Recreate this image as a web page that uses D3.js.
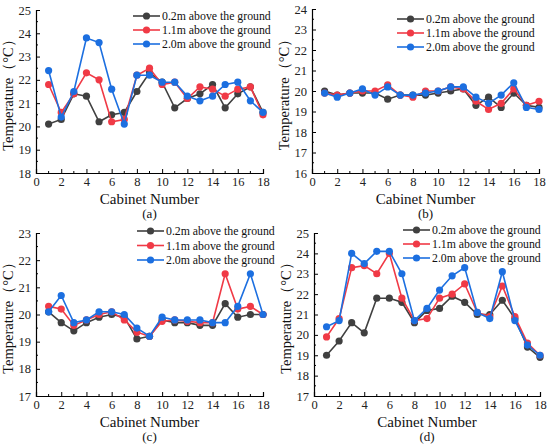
<!DOCTYPE html>
<html>
<head>
<meta charset="utf-8">
<script src="https://cdn.jsdelivr.net/npm/d3@7.9.0/dist/d3.min.js"></script>
<style>
  body { margin: 0; background: #fff; }
  svg, svg text { font-family: "Liberation Serif", "Times New Roman", serif !important; }
</style>
</head>
<body>
<svg id="chart" width="550" height="447"></svg>
<script>
// Cabinet numbers
const cabinets = d3.range(1, 19);
const seriesNames = ['0.2m above the ground', '1.1m above the ground', '2.0m above the ground'];
const seriesColors = ['#404040', '#f03a46', '#1c6fe0'];

// (a)
const aLow = [20.1, 20.3, 21.4, 21.3, 20.2, 20.5, 20.6, 21.5, 22.3, 21.9, 20.8, 21.2, 21.4, 21.8, 20.8, 21.4, 21.7, 20.6];
const aMid = [21.8, 20.6, 21.4, 22.3, 22.0, 20.2, 20.3, 22.2, 22.5, 21.8, 21.9, 21.2, 21.7, 21.6, 21.3, 21.6, 21.7, 20.5];
const aHigh = [22.4, 20.4, 21.5, 23.8, 23.6, 21.6, 20.1, 22.2, 22.2, 21.9, 21.9, 21.3, 21.1, 21.3, 21.8, 21.9, 21.1, 20.6];

// (b)
const bLow = [20.0, 19.8, 19.9, 19.9, 19.9, 19.6, 19.8, 19.8, 19.8, 19.9, 20.0, 20.1, 19.3, 19.7, 19.2, 19.9, 19.3, 19.2];
const bMid = [19.9, 19.8, 19.9, 20.0, 20.0, 20.3, 19.8, 19.7, 20.0, 20.0, 20.2, 20.1, 19.5, 19.1, 19.4, 20.1, 19.3, 19.5];
const bHigh = [19.9, 19.7, 19.9, 20.1, 19.8, 20.2, 19.8, 19.8, 19.9, 20.0, 20.2, 20.2, 19.7, 19.4, 19.8, 20.4, 19.2, 19.1];

// (c)
const cLow = [20.1, 19.7, 19.4, 19.7, 19.9, 20.0, 19.9, 19.1, 19.2, 19.8, 19.7, 19.7, 19.6, 19.6, 20.4, 19.9, 20.0, 20.0];
const cMid = [20.3, 20.2, 19.6, 19.8, 20.0, 20.1, 19.8, 19.35, 19.2, 19.75, 19.8, 19.75, 19.7, 19.7, 21.5, 20.2, 20.3, 20.0];
const cHigh = [20.1, 20.7, 19.7, 19.8, 20.1, 20.1, 20.0, 19.5, 19.2, 19.9, 19.8, 19.8, 19.8, 19.7, 19.7, 20.3, 21.5, 20.0];

// (d)
const dLow = [19.0, 19.7, 20.6, 20.1, 21.8, 21.8, 21.6, 20.6, 21.2, 21.3, 21.9, 21.6, 21.0, 21.0, 21.7, 20.8, 19.4, 18.9];
const dMid = [19.9, 20.8, 23.3, 23.4, 23.0, 24.0, 21.8, 20.7, 20.8, 21.8, 22.0, 22.5, 21.1, 20.9, 22.4, 20.9, 19.6, 19.0];
const dHigh = [20.4, 20.7, 24.0, 23.5, 24.1, 24.1, 23.0, 20.7, 21.3, 22.2, 22.9, 23.3, 21.1, 20.8, 23.1, 20.7, 19.5, 19.0];

// y tick labels per panel
const aTicks = [18, 19, 20, 21, 22, 23, 24, 25];
const bTicks = [16, 17, 18, 19, 20, 21, 22, 23, 24];
const cTicks = [17, 18, 19, 20, 21, 22, 23];
const dTicks = [17, 18, 19, 20, 21, 22, 23, 24, 25];
const xTicks = [0, 2, 4, 6, 8, 10, 12, 14, 16, 18];

const svg = d3.select('#chart');

function drawPanel(opts) {
  const { left, right, top, bottom, yTicks, series, label, legendX, legendY, legendStep } = opts;
  const g = svg.append('g');

  const x = d3.scaleLinear().domain([0, 18]).range([left, right]);
  const y = d3.scaleLinear().domain(d3.extent(yTicks)).range([bottom, top]);

  // axes, ticks pointing inward
  const xAxis = g.append('g').attr('transform', `translate(0,${bottom})`)
    .call(d3.axisBottom(x).tickValues(xTicks).tickSize(-4).tickPadding(4).tickFormat(d3.format('d')));
  xAxis.append('g').selectAll('line')
    .data(d3.range(1, 18, 2))
    .join('line')
    .attr('x1', d => x(d)).attr('x2', d => x(d))
    .attr('y1', 0).attr('y2', -2)
    .attr('stroke', '#000');

  const yAxis = g.append('g').attr('transform', `translate(${left},0)`)
    .call(d3.axisLeft(y).tickValues(yTicks).tickSize(-4).tickPadding(5).tickFormat(d3.format('d')));
  yAxis.append('g').selectAll('line')
    .data(yTicks.slice(0, -1).map(t => t + 0.5))
    .join('line')
    .attr('x1', 0).attr('x2', 2)
    .attr('y1', d => y(d)).attr('y2', d => y(d))
    .attr('stroke', '#000');

  [xAxis, yAxis].forEach(ax => {
    ax.attr('font-family', null);
    ax.select('.domain').attr('stroke', '#000').attr('stroke-width', 1.2);
    ax.selectAll('.tick line').attr('stroke', '#000');
    ax.selectAll('.tick text').attr('font-size', 12.5).attr('fill', '#222');
  });

  // lines and markers
  const line = d3.line().x((d, i) => x(cabinets[i])).y(d => y(d));
  series.forEach((vals, si) => {
    g.append('path')
      .attr('d', line(vals))
      .attr('fill', 'none')
      .attr('stroke', seriesColors[si])
      .attr('stroke-width', 1.6);
    g.append('g').selectAll('circle')
      .data(vals)
      .join('circle')
      .attr('cx', (d, i) => x(cabinets[i]))
      .attr('cy', d => y(d))
      .attr('r', 3.6)
      .attr('fill', seriesColors[si]);
  });

  // legend
  seriesNames.forEach((name, si) => {
    const ly = legendY + si * legendStep;
    g.append('line')
      .attr('x1', legendX).attr('x2', legendX + 27)
      .attr('y1', ly).attr('y2', ly)
      .attr('stroke', seriesColors[si]).attr('stroke-width', 1.6);
    g.append('circle')
      .attr('cx', legendX + 13.5).attr('cy', ly).attr('r', 3.6)
      .attr('fill', seriesColors[si]);
    g.append('text')
      .attr('x', legendX + 29).attr('y', ly + 4)
      .attr('font-size', 11.8).attr('fill', '#111')
      .text(name);
  });

  // axis titles and caption
  const cx = (left + right) / 2;
  g.append('text')
    .attr('x', cx).attr('y', bottom + 31)
    .attr('text-anchor', 'middle').attr('font-size', 15).attr('fill', '#111')
    .text('Cabinet Number');
  g.append('text')
    .attr('x', cx).attr('y', bottom + 45)
    .attr('text-anchor', 'middle').attr('font-size', 13).attr('fill', '#111')
    .text(label);
  g.append('text')
    .attr('transform', `translate(${left - 23},${(top + bottom) / 2}) rotate(-90)`)
    .attr('text-anchor', 'middle').attr('font-size', 14.5).attr('fill', '#111')
    .text('Temperature（°C）');
}

drawPanel({ left: 36, right: 263, top: 10, bottom: 173, yTicks: aTicks,
  series: [aLow, aMid, aHigh], label: '(a)', legendX: 133, legendY: 16, legendStep: 14 });
drawPanel({ left: 312, right: 539, top: 9, bottom: 173, yTicks: bTicks,
  series: [bLow, bMid, bHigh], label: '(b)', legendX: 397, legendY: 19, legendStep: 14 });
drawPanel({ left: 36, right: 263, top: 233, bottom: 396, yTicks: cTicks,
  series: [cLow, cMid, cHigh], label: '(c)', legendX: 137, legendY: 231, legendStep: 14.5 });
drawPanel({ left: 314, right: 540, top: 233, bottom: 396, yTicks: dTicks,
  series: [dLow, dMid, dHigh], label: '(d)', legendX: 403, legendY: 230, legendStep: 14 });
</script>
</body>
</html>
